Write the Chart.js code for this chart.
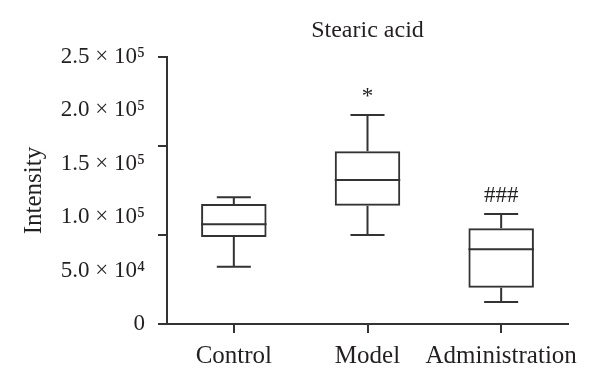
<!DOCTYPE html>
<html lang="en">
<head>
<meta charset="UTF-8">
<title>Stearic acid</title>
<script src="https://cdn.jsdelivr.net/npm/chart.js@4.4.1/dist/chart.umd.min.js"></script>
<style>
    html, body { margin: 0; padding: 0; background: #ffffff; }
    #janela { width: 600px; height: 385px; }
</style>
</head>
<body>
<div id="janela"><canvas id="grafico"></canvas></div>

<script>
    // dados (box plot)
    var grupos = ['Control', 'Model', 'Administration'];
    var minimo = [53700, 83300, 20600];
    var q1 = [81500, 110800, 34000];
    var mediana = [93300, 134800, 69900];
    var q3 = [112400, 161700, 89600];
    var maximo = [118600, 195700, 103000];
    var marcas = ['', '*', '###'];

    var yTicks = ['0', '5.0 × 10⁴', '1.0 × 10⁵', '1.5 × 10⁵', '2.0 × 10⁵', '2.5 × 10⁵'];
    var yMarcas = [0, 1, 2, 3];

    var corLinha = '#333333';
    var corTexto = '#231f20';
    var fonte = "'Liberation Serif', 'DejaVu Serif', serif";

    // desenha mediana, bigodes, marcas e titulo
    const boxPlot = {
        id: 'boxPlot',
        afterDatasetsDraw(chart) {
            const ctx = chart.ctx;
            const y = chart.scales.y;
            const meta = chart.getDatasetMeta(0);
            ctx.save();
            ctx.strokeStyle = corLinha;
            ctx.lineWidth = 2;
            meta.data.forEach(function (bar, i) {
                const x = bar.x;
                const w = bar.width;
                const cap = w * 0.26;
                const yMed = y.getPixelForValue(mediana[i]);
                const yMin = y.getPixelForValue(minimo[i]);
                const yMax = y.getPixelForValue(maximo[i]);
                const yQ1 = y.getPixelForValue(q1[i]);
                const yQ3 = y.getPixelForValue(q3[i]);
                ctx.beginPath();
                ctx.moveTo(x - w / 2, yMed); ctx.lineTo(x + w / 2, yMed);
                ctx.moveTo(x, yQ3); ctx.lineTo(x, yMax);
                ctx.moveTo(x - cap, yMax); ctx.lineTo(x + cap, yMax);
                ctx.moveTo(x, yQ1); ctx.lineTo(x, yMin);
                ctx.moveTo(x - cap, yMin); ctx.lineTo(x + cap, yMin);
                ctx.stroke();

                if (marcas[i]) {
                    ctx.fillStyle = corTexto;
                    ctx.font = '23px ' + fonte;
                    ctx.textAlign = 'center';
                    ctx.textBaseline = 'alphabetic';
                    ctx.fillText(marcas[i], x, yMax - 12);
                }
            });
            ctx.restore();
        },
        afterDraw(chart) {
            const ctx = chart.ctx;
            const area = chart.chartArea;
            const y2 = chart.scales.y2;
            ctx.save();
            // tracinhos do eixo y
            ctx.strokeStyle = corLinha;
            ctx.lineWidth = 2;
            ctx.beginPath();
            yMarcas.forEach(function (v) {
                const py = y2.getPixelForValue(v);
                ctx.moveTo(area.left - 9, py);
                ctx.lineTo(area.left, py);
            });
            ctx.stroke();
            // titulo
            ctx.fillStyle = corTexto;
            ctx.font = '24px ' + fonte;
            ctx.textAlign = 'center';
            ctx.textBaseline = 'middle';
            ctx.fillText('Stearic acid', (area.left + area.right) / 2, 31);
            ctx.restore();
        }
    };

    const ctx = document.getElementById('grafico').getContext('2d');
    const myChart = new Chart(ctx, {
        type: 'bar',
        data: {
            labels: grupos,
            datasets: [{
                label: 'Intensity',
                data: grupos.map(function (g, i) { return [q1[i], q3[i]]; }),
                backgroundColor: 'rgba(255, 255, 255, 0)',
                borderColor: corLinha,
                borderWidth: 2,
                borderSkipped: false,
                categoryPercentage: 1,
                barPercentage: 0.49
            }]
        },
        options: {
            responsive: true,
            maintainAspectRatio: false,
            animation: false,
            layout: { padding: { top: 57, right: 32, bottom: 0, left: 0 } },
            plugins: {
                legend: { display: false },
                tooltip: { enabled: false },
                title: { display: false }
            },
            scales: {
                x: {
                    grid: { display: true, drawOnChartArea: false, drawTicks: true, tickLength: 9, offset: false, color: corLinha, lineWidth: 2 },
                    border: { display: true, color: corLinha, width: 2 },
                    ticks: { color: corTexto, padding: 8, maxRotation: 0, minRotation: 0, autoSkip: false, font: { family: fonte, size: 25 } },
                    afterFit: function (scale) { scale.height = 61; }
                },
                y: {
                    min: 0,
                    max: 250000,
                    grid: { display: false, drawTicks: false },
                    border: { display: true, color: corLinha, width: 2 },
                    ticks: {
                        stepSize: 50000,
                        padding: 22,
                        color: corTexto,
                        font: { family: fonte, size: 23 },
                        callback: function (v, i) { return yTicks[i]; }
                    },
                    title: { display: true, text: 'Intensity', color: corTexto, padding: { top: 19 }, font: { family: fonte, size: 25 } },
                    afterFit: function (scale) { scale.width = 167; }
                },
                y2: {
                    display: false,
                    position: 'left',
                    min: 0,
                    max: 3
                }
            }
        },
        plugins: [boxPlot]
    });
</script>
</body>
</html>
